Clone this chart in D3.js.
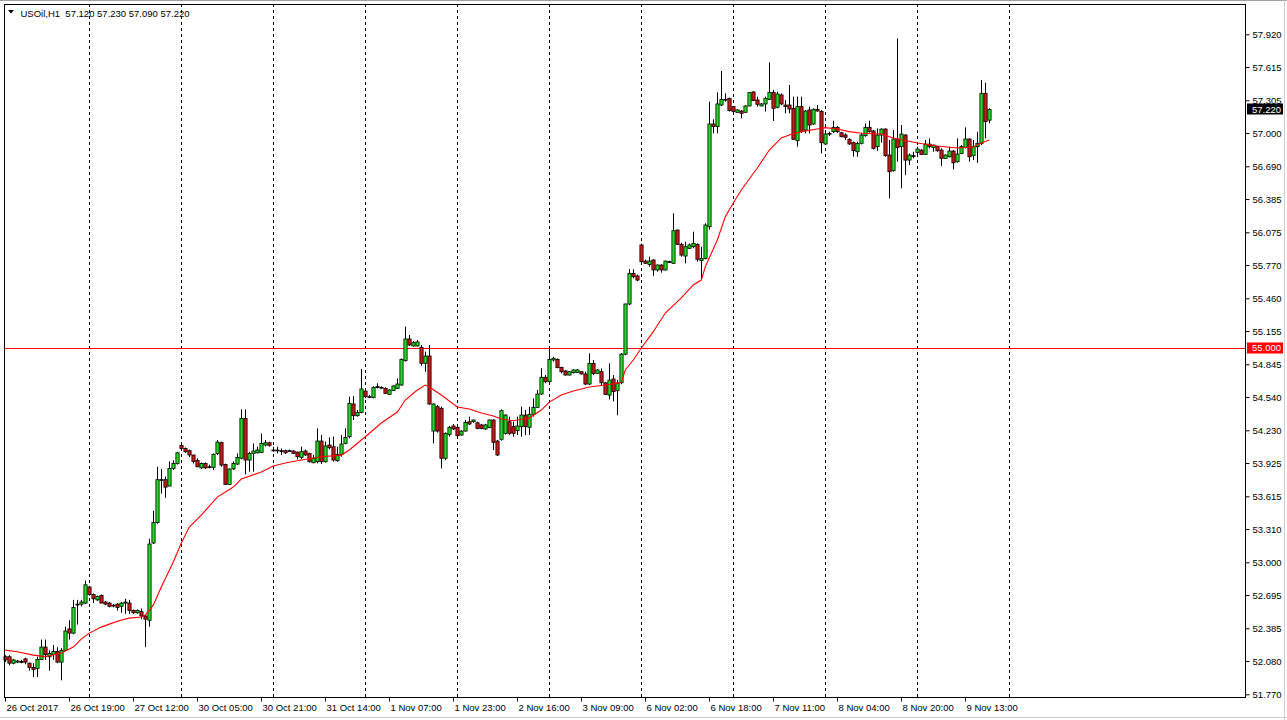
<!DOCTYPE html>
<html><head><meta charset="utf-8">
<script src="https://cdn.jsdelivr.net/npm/d3@7"></script>
<style>
html,body{margin:0;padding:0;background:#fff;overflow:hidden;}
svg{display:block;}
text{font-family:"Liberation Sans",Arial,sans-serif;}
</style></head><body>
<svg id="c" width="1287" height="720"></svg>
<script>
const symbolTitle = "USOil,H1";
const opens = [52.12,52.12,52.06,52.07,52.075,52.10,52.06,52.02,52.01,52.095,
52.21,52.12,52.14,52.17,52.07,52.18,52.38,52.34,52.61,52.61,
52.62,52.77,52.70,52.65,52.69,52.63,52.62,52.60,52.61,52.59,
52.62,52.62,52.55,52.53,52.54,52.50,52.46,53.18,53.37,53.77,
53.77,53.71,53.875,53.92,54.09,54.06,54.04,54.00,53.95,53.88,
53.92,53.89,53.885,54.015,54.115,53.912,53.726,53.87,53.915,53.97,
54.341,53.953,54.015,54.02,54.024,54.093,54.114,54.046,54.046,54.04,
54.04,54.04,54.037,54.027,53.978,54.037,54.015,53.928,53.937,54.13,
53.937,54.093,54.077,53.947,54.006,54.108,54.171,54.475,54.366,54.397,
54.596,54.543,54.534,54.637,54.63,54.621,54.565,54.60,54.621,54.652,
54.879,55.081,55.016,55.016,55.003,54.854,54.922,54.223,54.45,54.435,
53.969,54.192,54.27,54.258,54.186,54.223,54.31,54.31,54.30,54.28,
54.242,54.255,54.326,54.13,54.146,54.202,54.31,54.264,54.227,54.264,
54.372,54.258,54.379,54.444,54.568,54.724,54.683,54.885,54.891,54.817,
54.783,54.745,54.767,54.77,54.776,54.755,54.661,54.854,54.761,54.776,
54.673,54.558,54.708,54.60,54.673,54.94,55.407,55.692,55.668,55.957,
55.807,55.776,55.817,55.724,55.77,55.724,55.801,55.786,56.096,55.963,
55.854,55.926,55.941,55.963,55.811,55.832,56.127,57.084,57.06,57.261,
57.314,57.323,57.246,57.193,57.205,57.193,57.252,57.383,57.308,57.252,
57.271,57.314,57.379,57.24,57.355,57.261,57.261,57.23,56.929,57.246,
57.028,57.215,57.084,57.221,57.20,56.898,56.997,57.013,57.053,57.003,
56.982,56.941,56.91,56.826,56.904,56.975,57.053,57.019,56.873,56.981,
57.037,56.795,56.649,56.944,56.873,56.981,56.748,56.789,56.82,56.841,
56.801,56.897,56.866,56.873,56.841,56.764,56.779,56.832,56.733,56.81,
56.866,56.944,56.789,56.873,56.904,57.37,57.12];
const highs = [52.135,52.135,52.10,52.09,52.09,52.11,52.065,52.06,52.12,52.28,
52.28,52.18,52.23,52.21,52.20,52.40,52.46,52.65,52.65,52.65,
52.83,52.78,52.71,52.69,52.70,52.64,52.63,52.61,52.62,52.63,
52.66,52.65,52.56,52.56,52.57,52.51,53.22,53.48,53.89,53.87,
53.80,53.94,53.95,54.03,54.11,54.07,54.05,54.00,53.97,53.93,
53.93,53.91,54.015,54.14,54.124,53.92,53.875,53.94,54.015,54.425,
54.425,54.03,54.108,54.077,54.20,54.14,54.124,54.077,54.077,54.06,
54.05,54.05,54.045,54.03,54.077,54.05,54.02,54.00,54.248,54.186,
54.124,54.164,54.171,54.077,54.186,54.248,54.543,54.55,54.419,54.801,
54.621,54.56,54.64,54.668,54.64,54.63,54.615,54.65,54.714,54.90,
55.196,55.118,55.06,55.072,55.025,54.963,55.025,54.481,54.466,54.45,
54.21,54.27,54.289,54.27,54.23,54.326,54.357,54.33,54.31,54.29,
54.29,54.33,54.332,54.14,54.425,54.38,54.357,54.31,54.357,54.45,
54.419,54.45,54.528,54.606,54.808,54.745,54.994,54.916,54.90,54.82,
54.79,54.78,54.80,54.80,54.78,54.776,54.947,54.885,54.80,54.807,
54.68,54.854,54.745,54.70,54.95,55.41,55.733,55.73,55.68,55.97,
55.82,55.848,55.823,55.776,55.776,55.81,55.81,56.252,56.10,55.978,
55.988,55.97,56.081,55.972,55.941,56.159,57.292,57.128,57.379,57.578,
57.37,57.33,57.252,57.22,57.215,57.26,57.38,57.39,57.339,57.28,
57.339,57.659,57.401,57.386,57.37,57.308,57.448,57.339,57.339,57.339,
57.215,57.246,57.23,57.261,57.215,57.00,57.013,57.115,57.065,57.01,
56.997,56.95,56.92,56.919,57.003,57.09,57.115,57.028,57.043,57.043,
57.043,56.935,57.028,57.882,57.075,56.99,56.81,56.826,56.873,56.85,
56.935,56.95,56.89,56.879,56.857,56.80,56.873,56.841,56.95,56.888,
57.053,56.95,56.935,57.012,57.494,57.469,57.23];
const lows = [52.07,52.04,52.05,52.06,52.06,52.05,51.99,51.93,51.93,52.09,
52.09,51.99,52.09,52.06,51.90,52.17,52.28,52.33,52.42,52.59,
52.61,52.69,52.62,52.64,52.62,52.60,52.58,52.58,52.55,52.53,
52.52,52.52,52.52,52.52,52.47,52.21,52.40,53.17,53.36,53.64,
53.60,53.71,53.86,53.91,54.05,54.02,53.98,53.92,53.89,53.87,
53.87,53.875,53.86,54.00,53.89,53.72,53.72,53.86,53.906,53.96,
53.82,53.844,53.844,54.015,54.02,54.08,54.077,54.03,54.015,54.00,
54.01,54.03,54.01,53.96,53.96,53.99,53.93,53.922,53.922,53.916,
53.93,54.052,53.937,53.937,53.984,54.10,54.155,54.326,54.357,54.388,
54.528,54.528,54.53,54.62,54.62,54.57,54.56,54.595,54.62,54.645,
54.87,55.016,55.01,55.01,54.832,54.776,54.466,54.108,54.208,53.875,
53.953,54.171,54.233,54.155,54.18,54.217,54.28,54.30,54.24,54.24,
54.235,54.25,54.046,53.99,54.133,54.19,54.186,54.171,54.186,54.171,
54.186,54.186,54.357,54.44,54.559,54.668,54.668,54.87,54.808,54.761,
54.74,54.74,54.76,54.765,54.75,54.652,54.652,54.745,54.755,54.652,
54.558,54.518,54.50,54.37,54.66,54.93,55.397,55.646,55.62,55.79,
55.78,55.755,55.668,55.708,55.699,55.72,55.79,55.78,55.957,55.848,
55.786,55.92,55.926,55.801,55.63,55.823,56.10,56.997,56.997,57.252,
57.292,57.20,57.168,57.19,57.137,57.19,57.25,57.30,57.246,57.25,
57.20,57.308,57.112,57.23,57.26,57.184,57.184,56.935,56.873,57.00,
56.997,56.997,57.075,57.20,56.811,56.89,56.972,57.00,57.00,56.96,
56.935,56.89,56.78,56.779,56.894,56.966,57.003,56.848,56.835,56.91,
56.779,56.391,56.64,56.733,56.484,56.608,56.702,56.764,56.779,56.795,
56.795,56.857,56.826,56.826,56.692,56.76,56.773,56.661,56.723,56.804,
56.857,56.733,56.748,56.723,56.888,56.95,57.09];
const closes = [52.09,52.06,52.09,52.08,52.075,52.07,52.02,52.00,52.095,52.21,
52.14,52.15,52.17,52.07,52.18,52.36,52.34,52.58,52.61,52.63,
52.79,52.70,52.66,52.68,52.62,52.61,52.59,52.60,52.58,52.62,
52.63,52.55,52.53,52.55,52.50,52.47,53.17,53.37,53.77,53.77,
53.70,53.875,53.92,54.02,54.06,54.03,54.00,53.94,53.89,53.92,
53.88,53.89,54.006,54.12,53.906,53.726,53.869,53.92,53.978,54.341,
53.953,54.015,54.037,54.046,54.108,54.114,54.09,54.046,54.046,54.04,
54.02,54.04,54.015,53.984,54.031,54.00,53.937,53.969,54.13,53.937,
54.084,54.068,53.953,54.006,54.102,54.164,54.481,54.366,54.397,54.615,
54.543,54.543,54.63,54.637,54.63,54.574,54.606,54.643,54.661,54.891,
55.081,55.025,55.047,55.053,54.854,54.922,54.475,54.475,54.223,53.969,
54.202,54.258,54.242,54.18,54.223,54.304,54.289,54.326,54.248,54.248,
54.28,54.326,54.118,54.00,54.413,54.372,54.202,54.202,54.27,54.372,
54.264,54.379,54.444,54.568,54.724,54.683,54.891,54.901,54.814,54.776,
54.745,54.776,54.792,54.792,54.755,54.661,54.854,54.761,54.792,54.673,
54.565,54.698,54.59,54.67,54.94,55.407,55.692,55.661,55.63,55.801,
55.786,55.807,55.724,55.77,55.724,55.807,55.801,56.09,55.963,55.863,
55.941,55.957,55.972,55.823,55.832,56.143,57.084,57.06,57.271,57.314,
57.314,57.209,57.20,57.215,57.184,57.252,57.376,57.302,57.268,57.271,
57.323,57.379,57.23,57.364,57.271,57.246,57.224,56.941,57.246,57.013,
57.205,57.075,57.221,57.205,56.91,56.991,56.997,57.053,57.013,56.966,
56.96,56.898,56.836,56.904,56.981,57.053,57.012,56.857,56.981,57.037,
56.789,56.64,56.944,56.866,56.99,56.748,56.795,56.789,56.851,56.801,
56.897,56.873,56.888,56.835,56.764,56.795,56.832,56.723,56.804,56.873,
56.944,56.779,56.873,56.904,57.37,57.106,57.22];

const maBars = [0,3,7,10,14,17,19,21,24,26,29,31,34,35,37,39,42,44,46,49,53,57,59,64,67,70,74,79,84,86,90,94,98,100,103,105,106,109,113,116,119,122,124,127,131,134,136,139,142,146,150,154,155,157,159,162,165,169,172,174,175,178,180,182,184,188,191,194,196,199,203,205,208,211,214,219,222,228,233,238,242,244,246];
const maValues = [52.182,52.166,52.135,52.121,52.154,52.21,52.284,52.34,52.396,52.424,52.462,52.48,52.49,52.508,52.601,52.769,53.002,53.179,53.328,53.44,53.608,53.701,53.776,53.841,53.897,53.925,53.953,53.984,53.999,54.046,54.17,54.298,54.4,54.512,54.605,54.652,54.633,54.559,54.447,54.428,54.391,54.363,54.335,54.319,54.344,54.419,54.493,54.559,54.596,54.633,54.652,54.675,54.792,54.885,54.997,55.149,55.323,55.463,55.584,55.63,55.754,56.003,56.22,56.348,56.469,56.674,56.842,56.954,56.982,57.013,57.038,57.05,57.038,57.013,56.998,56.991,56.954,56.907,56.879,56.861,56.87,56.907,56.935];

const priceTicks = [57.920,57.615,57.305,57.000,56.690,56.385,56.075,55.770,55.460,55.155,54.845,54.540,54.230,53.925,53.615,53.310,53.000,52.695,52.385,52.080,51.770];
const timeLabels = ["26 Oct 2017","26 Oct 19:00","27 Oct 12:00","30 Oct 05:00","30 Oct 21:00","31 Oct 14:00","1 Nov 07:00","1 Nov 23:00","2 Nov 16:00","3 Nov 09:00","6 Nov 02:00","6 Nov 18:00","7 Nov 11:00","8 Nov 04:00","8 Nov 20:00","9 Nov 13:00"];
const timeLabelBars = [0,16,32,48,64,80,96,112,128,144,160,176,192,208,224,240];
const separatorBars = [21,44,67,90,113,136,159,182,205,228,251];
const levelPrice = 55.000;

// layout
const W = 1287, H = 720;
const plot = {left: 4, right: 1245, top: 4, bottom: 697};
const fmt = d3.format(".3f");
const bullColor = "#1fe01f", bearColor = "#d01818";

const svg = d3.select("#c");
svg.append("rect").attr("x",0).attr("y",0).attr("width",W).attr("height",H).attr("fill","#fff");

const n = opens.length;
const x = d3.scaleLinear().domain([0, n - 1]).range([5.3, 5.3 + 4 * (n - 1)]);
const y = d3.scaleLinear().domain([51.77, 57.92]).range([694.3, 34.3]);
const cx = i => Math.round(x(i)) + 0.5;

// outer window frame
svg.append("line").attr("x1",0).attr("x2",W).attr("y1",0.5).attr("y2",0.5).attr("stroke","#a0a0a0");
svg.append("line").attr("x1",1284.5).attr("x2",1284.5).attr("y1",0).attr("y2",H).attr("stroke","#d0d0d0");
svg.append("line").attr("x1",0).attr("x2",W).attr("y1",717.5).attr("y2",717.5).attr("stroke","#d0d0d0");

const g = svg.append("g");

// day separators
g.selectAll("line.sep").data(separatorBars).join("line").attr("class","sep")
  .attr("x1", d => cx(d)).attr("x2", d => cx(d))
  .attr("y1", plot.top).attr("y2", plot.bottom)
  .attr("stroke","#000").attr("stroke-width",1).attr("stroke-dasharray","3,3");

// level line
g.append("line").attr("x1", plot.left).attr("x2", plot.right)
  .attr("y1", Math.round(y(levelPrice)) + 0.5).attr("y2", Math.round(y(levelPrice)) + 0.5)
  .attr("stroke","#ff0000").attr("stroke-width",1);

// candles
const idx = d3.range(n);
g.selectAll("line.wick").data(idx).join("line").attr("class","wick")
  .attr("x1", cx).attr("x2", cx)
  .attr("y1", i => y(Math.max(highs[i], opens[i], closes[i])))
  .attr("y2", i => y(Math.min(lows[i], opens[i], closes[i])))
  .attr("stroke","#000").attr("stroke-width",1);

g.selectAll("rect.body").data(idx).join("rect").attr("class","body")
  .attr("x", i => cx(i) - 1.6).attr("width", 3.2)
  .attr("y", i => y(Math.max(opens[i], closes[i])))
  .attr("height", i => Math.max(0.8, Math.abs(y(opens[i]) - y(closes[i]))))
  .attr("fill", i => closes[i] > opens[i] ? bullColor : (closes[i] < opens[i] ? bearColor : "#000"))
  .attr("stroke","#000").attr("stroke-width",0.8);

// moving average
g.append("path").datum(d3.range(maBars.length))
  .attr("d", d3.line().x(k => x(maBars[k])).y(k => y(maValues[k])))
  .attr("fill","none").attr("stroke","#ff0000").attr("stroke-width",1.1);

// frame
svg.append("rect").attr("x", plot.left + 0.5).attr("y", plot.top + 0.5)
  .attr("width", plot.right - plot.left).attr("height", plot.bottom - plot.top)
  .attr("fill","none").attr("stroke","#000").attr("stroke-width",1);

// price axis
const yAxis = d3.axisRight(y).tickValues(priceTicks).tickFormat(fmt).tickSize(4).tickPadding(3);
const ya = svg.append("g").attr("transform", `translate(${plot.right + 0.5},0)`).call(yAxis);
ya.select(".domain").remove();
ya.selectAll("text").attr("font-size","9.5px").attr("fill","#000").attr("font-family","Liberation Sans, Arial, sans-serif");
ya.selectAll("line").attr("stroke","#000");

// time axis
const xAxis = d3.axisBottom(x).tickValues(timeLabelBars).tickFormat((d, i) => timeLabels[i]).tickSize(4).tickPadding(3);
const xa = svg.append("g").attr("transform", `translate(0,${plot.bottom + 0.5})`).call(xAxis);
xa.select(".domain").remove();
xa.selectAll(".tick").attr("transform", d => `translate(${cx(d)},0)`);
xa.selectAll("text").attr("text-anchor","start").attr("dx","1").attr("font-size","9.5px").attr("fill","#000").attr("font-family","Liberation Sans, Arial, sans-serif");
xa.selectAll("line").attr("stroke","#000");

// price labels (last price and level)
function priceTag(price, bg) {
  const yy = y(price);
  svg.append("rect").attr("x", 1247).attr("y", Math.round(yy) - 5.5).attr("width", 36).attr("height", 11).attr("fill", bg);
  svg.append("text").attr("x", 1252).attr("y", yy).attr("dy","0.35em")
    .attr("font-size","9.5px").attr("fill","#fff").text(fmt(price));
}
priceTag(levelPrice, "#ff0000");
priceTag(closes[n - 1], "#000");

// header
svg.append("path").attr("d","M8,10 L14,10 L11,13.5 Z").attr("fill","#000");
const lastVals = [opens[n-1], highs[n-1], lows[n-1], closes[n-1]];
svg.append("text").attr("x", 20.5).attr("y", 16.5).attr("font-size","9.5px").attr("fill","#000")
  .style("white-space","pre")
  .text(symbolTitle + "  " + lastVals.map(fmt).join(" "));
</script>
</body></html>
